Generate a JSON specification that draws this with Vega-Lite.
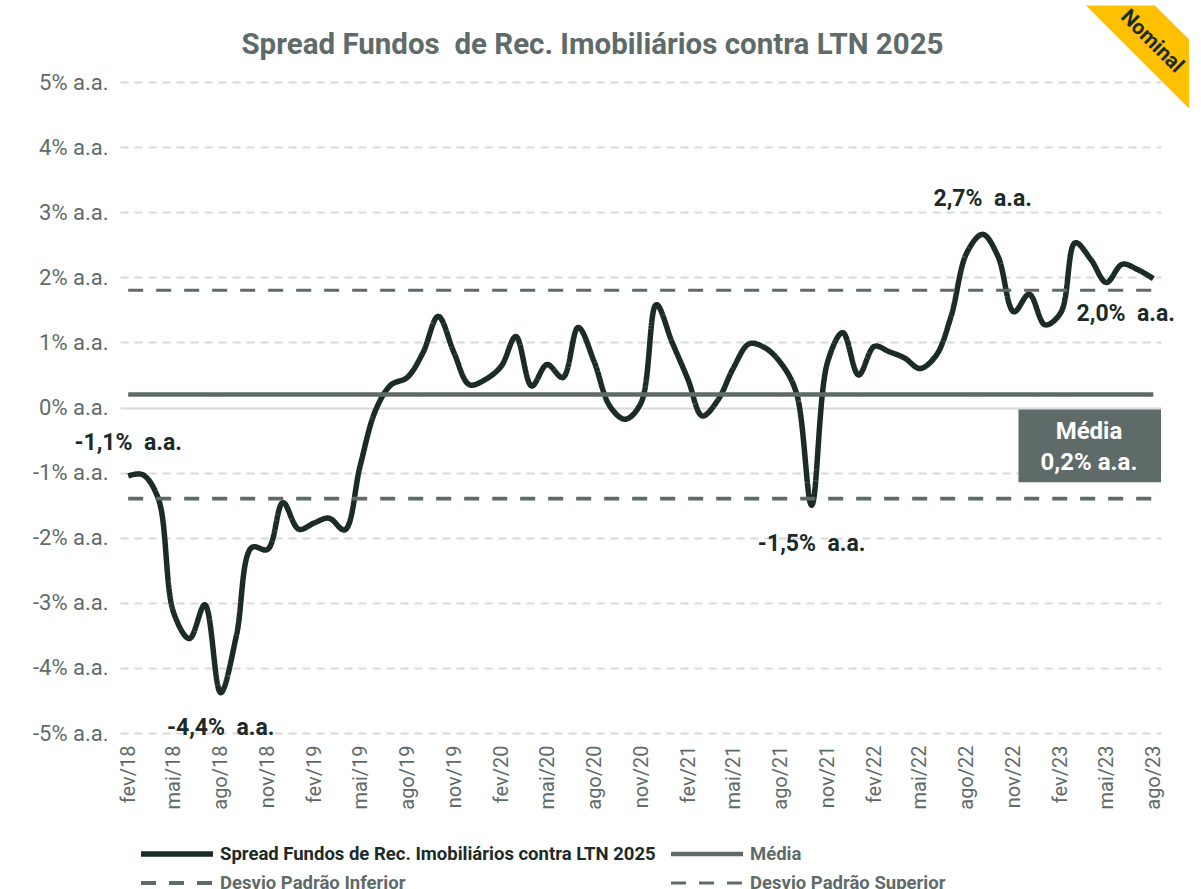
{
  "$schema": "https://vega.github.io/schema/vega-lite/v6.json",
  "autosize": {"type": "none"},
  "width": 1041,
  "height": 651,
  "padding": {"left": 120, "top": 82, "right": 40, "bottom": 156},
  "background": "white",
  "config": {
    "view": {"stroke": null},
    "font": "Roboto"
  },
  "title": {
    "text": "Spread Fundos \u00a0de Rec. Imobiliários contra LTN 2025",
    "font": "Roboto",
    "fontSize": 29.5,
    "fontWeight": "bold",
    "color": "#5f6b69",
    "anchor": "middle",
    "frame": "group",
    "dx": -48,
    "offset": -55
  },
  "encoding": {
    "x": {
      "field": "d",
      "type": "temporal",
      "scale": {
        "type": "utc",
        "domain": [
          {"year": 2018, "month": 1, "date": 16, "utc": true},
          {"year": 2023, "month": 8, "date": 16, "utc": true}
        ]
      },
      "axis": {
        "title": null,
        "grid": false,
        "domain": false,
        "ticks": false,
        "labelAngle": -90,
        "labelAlign": "right",
        "labelBaseline": "middle",
        "labelPadding": 12,
        "labelFont": "Roboto",
        "labelFontSize": 20,
        "labelColor": "#5f6b69",
        "labelOverlap": false,
        "labelFlush": false,
        "values": [
          {"year": 2018, "month": 2, "date": 1, "utc": true},
          {"year": 2018, "month": 5, "date": 1, "utc": true},
          {"year": 2018, "month": 8, "date": 1, "utc": true},
          {"year": 2018, "month": 11, "date": 1, "utc": true},
          {"year": 2019, "month": 2, "date": 1, "utc": true},
          {"year": 2019, "month": 5, "date": 1, "utc": true},
          {"year": 2019, "month": 8, "date": 1, "utc": true},
          {"year": 2019, "month": 11, "date": 1, "utc": true},
          {"year": 2020, "month": 2, "date": 1, "utc": true},
          {"year": 2020, "month": 5, "date": 1, "utc": true},
          {"year": 2020, "month": 8, "date": 1, "utc": true},
          {"year": 2020, "month": 11, "date": 1, "utc": true},
          {"year": 2021, "month": 2, "date": 1, "utc": true},
          {"year": 2021, "month": 5, "date": 1, "utc": true},
          {"year": 2021, "month": 8, "date": 1, "utc": true},
          {"year": 2021, "month": 11, "date": 1, "utc": true},
          {"year": 2022, "month": 2, "date": 1, "utc": true},
          {"year": 2022, "month": 5, "date": 1, "utc": true},
          {"year": 2022, "month": 8, "date": 1, "utc": true},
          {"year": 2022, "month": 11, "date": 1, "utc": true},
          {"year": 2023, "month": 2, "date": 1, "utc": true},
          {"year": 2023, "month": 5, "date": 1, "utc": true},
          {"year": 2023, "month": 8, "date": 1, "utc": true}
        ],
        "labelExpr": "['jan','fev','mar','abr','mai','jun','jul','ago','set','out','nov','dez'][utcmonth(datum.value)] + '/' + utcFormat(datum.value, '%y')"
      }
    },
    "y": {
      "type": "quantitative",
      "scale": {"domain": [-5, 5], "nice": false, "zero": false},
      "axis": {
        "title": null,
        "domain": false,
        "ticks": false,
        "values": [-5, -4, -3, -2, -1, 0, 1, 2, 3, 4, 5],
        "labelExpr": "datum.value + '% a.a.'",
        "labelFont": "Roboto",
        "labelFontSize": 22,
        "labelColor": "#5f6b69",
        "labelPadding": 12,
        "grid": true,
        "gridColor": "#d9d9d9",
        "gridWidth": 2,
        "gridDash": {"condition": {"test": "datum.value === 0", "value": []}, "value": [8, 6]}
      }
    }
  },
  "layer": [
    {
      "data": {
        "values": [
          {"d": "2018-02-01", "spread": -1.05, "media": 0.2, "inf": -1.4, "sup": 1.8},
          {"d": "2018-03-01", "spread": -1.03, "media": 0.2, "inf": -1.4, "sup": 1.8},
          {"d": "2018-04-01", "spread": -1.40, "media": 0.2, "inf": -1.4, "sup": 1.8},
          {"d": "2018-05-01", "spread": -3.15, "media": 0.2, "inf": -1.4, "sup": 1.8},
          {"d": "2018-06-01", "spread": -3.55, "media": 0.2, "inf": -1.4, "sup": 1.8},
          {"d": "2018-07-01", "spread": -3.03, "media": 0.2, "inf": -1.4, "sup": 1.8},
          {"d": "2018-08-01", "spread": -4.38, "media": 0.2, "inf": -1.4, "sup": 1.8},
          {"d": "2018-09-01", "spread": -3.50, "media": 0.2, "inf": -1.4, "sup": 1.8},
          {"d": "2018-10-01", "spread": -2.15, "media": 0.2, "inf": -1.4, "sup": 1.8},
          {"d": "2018-11-01", "spread": -2.18, "media": 0.2, "inf": -1.4, "sup": 1.8},
          {"d": "2018-12-01", "spread": -1.46, "media": 0.2, "inf": -1.4, "sup": 1.8},
          {"d": "2019-01-01", "spread": -1.87, "media": 0.2, "inf": -1.4, "sup": 1.8},
          {"d": "2019-02-01", "spread": -1.77, "media": 0.2, "inf": -1.4, "sup": 1.8},
          {"d": "2019-03-01", "spread": -1.70, "media": 0.2, "inf": -1.4, "sup": 1.8},
          {"d": "2019-04-01", "spread": -1.88, "media": 0.2, "inf": -1.4, "sup": 1.8},
          {"d": "2019-05-01", "spread": -0.90, "media": 0.2, "inf": -1.4, "sup": 1.8},
          {"d": "2019-06-01", "spread": -0.03, "media": 0.2, "inf": -1.4, "sup": 1.8},
          {"d": "2019-07-01", "spread": 0.35, "media": 0.2, "inf": -1.4, "sup": 1.8},
          {"d": "2019-08-01", "spread": 0.46, "media": 0.2, "inf": -1.4, "sup": 1.8},
          {"d": "2019-09-01", "spread": 0.84, "media": 0.2, "inf": -1.4, "sup": 1.8},
          {"d": "2019-10-01", "spread": 1.40, "media": 0.2, "inf": -1.4, "sup": 1.8},
          {"d": "2019-11-01", "spread": 0.84, "media": 0.2, "inf": -1.4, "sup": 1.8},
          {"d": "2019-12-01", "spread": 0.35, "media": 0.2, "inf": -1.4, "sup": 1.8},
          {"d": "2020-01-01", "spread": 0.43, "media": 0.2, "inf": -1.4, "sup": 1.8},
          {"d": "2020-02-01", "spread": 0.63, "media": 0.2, "inf": -1.4, "sup": 1.8},
          {"d": "2020-03-01", "spread": 1.09, "media": 0.2, "inf": -1.4, "sup": 1.8},
          {"d": "2020-04-01", "spread": 0.33, "media": 0.2, "inf": -1.4, "sup": 1.8},
          {"d": "2020-05-01", "spread": 0.66, "media": 0.2, "inf": -1.4, "sup": 1.8},
          {"d": "2020-06-01", "spread": 0.46, "media": 0.2, "inf": -1.4, "sup": 1.8},
          {"d": "2020-07-01", "spread": 1.23, "media": 0.2, "inf": -1.4, "sup": 1.8},
          {"d": "2020-08-01", "spread": 0.71, "media": 0.2, "inf": -1.4, "sup": 1.8},
          {"d": "2020-09-01", "spread": 0.02, "media": 0.2, "inf": -1.4, "sup": 1.8},
          {"d": "2020-10-01", "spread": -0.18, "media": 0.2, "inf": -1.4, "sup": 1.8},
          {"d": "2020-11-01", "spread": 0.07, "media": 0.2, "inf": -1.4, "sup": 1.8},
          {"d": "2020-12-01", "spread": 1.58, "media": 0.2, "inf": -1.4, "sup": 1.8},
          {"d": "2021-01-01", "spread": 1.00, "media": 0.2, "inf": -1.4, "sup": 1.8},
          {"d": "2021-02-01", "spread": 0.43, "media": 0.2, "inf": -1.4, "sup": 1.8},
          {"d": "2021-03-01", "spread": -0.13, "media": 0.2, "inf": -1.4, "sup": 1.8},
          {"d": "2021-04-01", "spread": 0.12, "media": 0.2, "inf": -1.4, "sup": 1.8},
          {"d": "2021-05-01", "spread": 0.61, "media": 0.2, "inf": -1.4, "sup": 1.8},
          {"d": "2021-06-01", "spread": 0.98, "media": 0.2, "inf": -1.4, "sup": 1.8},
          {"d": "2021-07-01", "spread": 0.92, "media": 0.2, "inf": -1.4, "sup": 1.8},
          {"d": "2021-08-01", "spread": 0.69, "media": 0.2, "inf": -1.4, "sup": 1.8},
          {"d": "2021-09-01", "spread": 0.23, "media": 0.2, "inf": -1.4, "sup": 1.8},
          {"d": "2021-10-01", "spread": -1.50, "media": 0.2, "inf": -1.4, "sup": 1.8},
          {"d": "2021-11-01", "spread": 0.69, "media": 0.2, "inf": -1.4, "sup": 1.8},
          {"d": "2021-12-01", "spread": 1.15, "media": 0.2, "inf": -1.4, "sup": 1.8},
          {"d": "2022-01-01", "spread": 0.50, "media": 0.2, "inf": -1.4, "sup": 1.8},
          {"d": "2022-02-01", "spread": 0.94, "media": 0.2, "inf": -1.4, "sup": 1.8},
          {"d": "2022-03-01", "spread": 0.86, "media": 0.2, "inf": -1.4, "sup": 1.8},
          {"d": "2022-04-01", "spread": 0.76, "media": 0.2, "inf": -1.4, "sup": 1.8},
          {"d": "2022-05-01", "spread": 0.60, "media": 0.2, "inf": -1.4, "sup": 1.8},
          {"d": "2022-06-01", "spread": 0.79, "media": 0.2, "inf": -1.4, "sup": 1.8},
          {"d": "2022-07-01", "spread": 1.40, "media": 0.2, "inf": -1.4, "sup": 1.8},
          {"d": "2022-08-01", "spread": 2.38, "media": 0.2, "inf": -1.4, "sup": 1.8},
          {"d": "2022-09-01", "spread": 2.66, "media": 0.2, "inf": -1.4, "sup": 1.8},
          {"d": "2022-10-01", "spread": 2.32, "media": 0.2, "inf": -1.4, "sup": 1.8},
          {"d": "2022-11-01", "spread": 1.47, "media": 0.2, "inf": -1.4, "sup": 1.8},
          {"d": "2022-12-01", "spread": 1.74, "media": 0.2, "inf": -1.4, "sup": 1.8},
          {"d": "2023-01-01", "spread": 1.27, "media": 0.2, "inf": -1.4, "sup": 1.8},
          {"d": "2023-02-01", "spread": 1.46, "media": 0.2, "inf": -1.4, "sup": 1.8},
          {"d": "2023-03-01", "spread": 2.53, "media": 0.2, "inf": -1.4, "sup": 1.8},
          {"d": "2023-04-01", "spread": 2.27, "media": 0.2, "inf": -1.4, "sup": 1.8},
          {"d": "2023-05-01", "spread": 1.92, "media": 0.2, "inf": -1.4, "sup": 1.8},
          {"d": "2023-06-01", "spread": 2.20, "media": 0.2, "inf": -1.4, "sup": 1.8},
          {"d": "2023-07-01", "spread": 2.12, "media": 0.2, "inf": -1.4, "sup": 1.8},
          {"d": "2023-08-01", "spread": 1.98, "media": 0.2, "inf": -1.4, "sup": 1.8}
        ]
      },
      "transform": [
        {"fold": ["spread", "media", "inf", "sup"], "as": ["serie", "v"]}
      ],
      "mark": {"type": "line", "interpolate": "catmull-rom", "strokeCap": "butt"},
      "encoding": {
        "y": {"field": "v", "type": "quantitative"},
        "color": {
          "field": "serie",
          "type": "nominal",
          "scale": {"domain": ["spread", "media", "inf", "sup"], "range": ["#1b2b28", "#5f6b69", "#5f6b69", "#5f6b69"]},
          "legend": {
            "title": null,
            "orient": "none",
            "legendX": 18,
            "legendY": 762,
            "direction": "horizontal",
            "columns": 2,
            "clipHeight": 20,
            "rowPadding": 9,
            "columnPadding": 12,
            "symbolType": "stroke",
            "symbolSize": 5184,
            "labelFont": "Roboto",
            "labelFontSize": 18.5,
            "labelFontWeight": "bold",
            "labelOffset": 4,
            "labelLimit": 700,
            "labelExpr": "{'spread': 'Spread Fundos de Rec. Imobiliários contra LTN 2025', 'media': 'Média', 'inf': 'Desvio Padrão Inferior', 'sup': 'Desvio Padrão Superior'}[datum.label]",
            "encoding": {
              "labels": {
                "fill": {"condition": {"test": "datum.value === 'spread'", "value": "#1b2b28"}, "value": "#5f6b69"}
              }
            }
          }
        },
        "strokeDash": {
          "field": "serie",
          "type": "nominal",
          "scale": {"domain": ["spread", "media", "inf", "sup"], "range": [[1, 0], [1, 0], [15, 13], [15, 13]]},
          "legend": {"title": null}
        },
        "strokeWidth": {
          "field": "serie",
          "type": "nominal",
          "scale": {"domain": ["spread", "media", "inf", "sup"], "range": [5.5, 3, 3.5, 3.5]},
          "legend": {"title": null}
        }
      }
    },
    {
      "data": {
        "values": [
          {"d": "2023-03-22", "top": 6.175, "bot": 6.175},
          {"d": "2023-08-04", "top": 6.175, "bot": 5.115},
          {"d": "2023-10-10", "top": 5.653, "bot": 4.593}
        ]
      },
      "mark": {"type": "area", "color": "#ffc000", "opacity": 1, "clip": false},
      "encoding": {
        "y": {"field": "top", "type": "quantitative"},
        "y2": {"field": "bot"}
      }
    },
    {
      "data": {"values": [{"d": "2023-07-29", "v": 5.622, "t": "Nominal"}]},
      "mark": {"type": "text", "angle": 45, "font": "Roboto", "fontSize": 21, "fontWeight": "bold", "color": "#1b2b28", "align": "center", "baseline": "middle"},
      "encoding": {
        "y": {"field": "v", "type": "quantitative"},
        "text": {"field": "t"}
      }
    },
    {
      "data": {"values": [{"d": "2022-11-10", "d2": "2023-08-16", "v": -0.03, "v2": -1.15}]},
      "mark": {"type": "rect", "color": "#5f6b69"},
      "encoding": {
        "x2": {"field": "d2"},
        "y": {"field": "v", "type": "quantitative"},
        "y2": {"field": "v2"}
      }
    },
    {
      "data": {
        "values": [
          {"d": "2023-03-28", "v": -0.38, "t": "Média"},
          {"d": "2023-03-28", "v": -0.85, "t": "0,2% a.a."}
        ]
      },
      "mark": {"type": "text", "font": "Roboto", "fontSize": 24, "fontWeight": "bold", "color": "white", "align": "center", "baseline": "middle"},
      "encoding": {
        "y": {"field": "v", "type": "quantitative"},
        "text": {"field": "t"}
      }
    },
    {
      "data": {
        "values": [
          {"d": "2018-02-01", "v": -0.54, "t": "-1,1% \u00a0a.a."},
          {"d": "2018-08-01", "v": -4.92, "t": "-4,4% \u00a0a.a."},
          {"d": "2021-10-01", "v": -2.1, "t": "-1,5% \u00a0a.a."},
          {"d": "2022-09-01", "v": 3.2, "t": "2,7% \u00a0a.a."},
          {"d": "2023-06-08", "v": 1.43, "t": "2,0% \u00a0a.a."}
        ]
      },
      "mark": {"type": "text", "font": "Roboto", "fontSize": 23, "fontWeight": "bold", "color": "#1b2b28", "align": "center", "baseline": "middle"},
      "encoding": {
        "y": {"field": "v", "type": "quantitative"},
        "text": {"field": "t"}
      }
    }
  ]
}
